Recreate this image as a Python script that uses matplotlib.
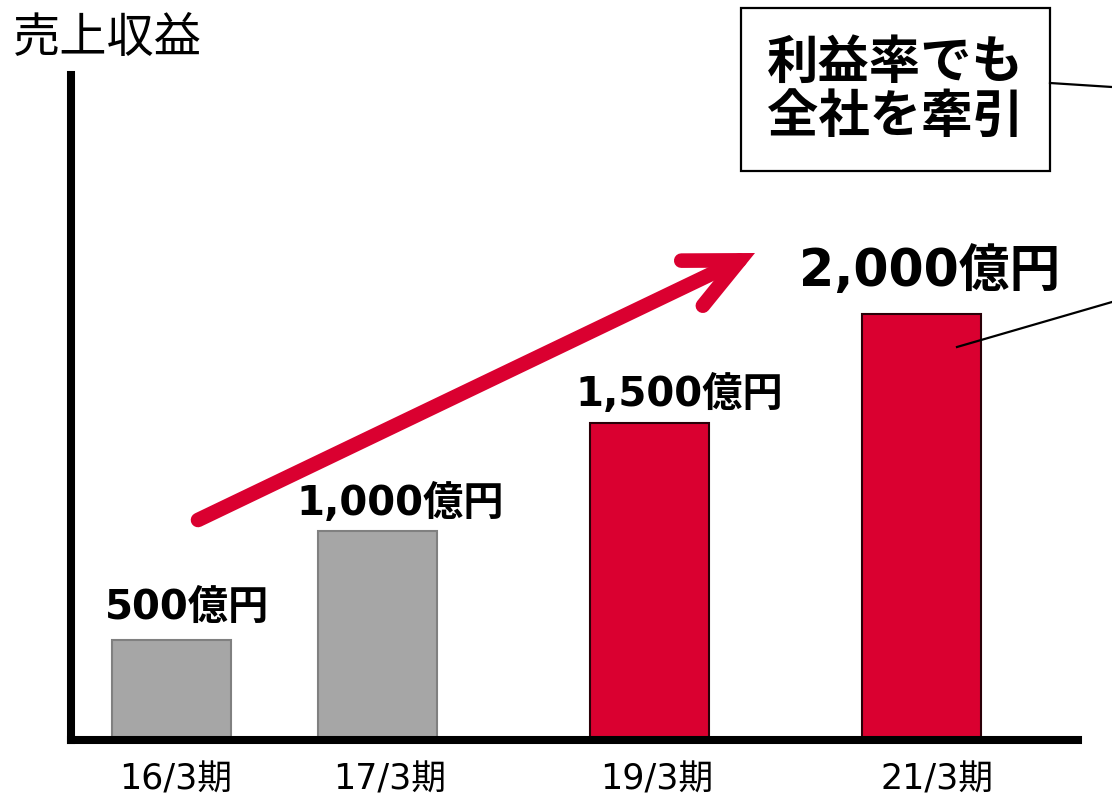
import matplotlib
matplotlib.use("Agg")
import matplotlib.pyplot as plt
from matplotlib.patches import FancyArrowPatch, Rectangle, ArrowStyle
from matplotlib.lines import Line2D
from matplotlib.transforms import ScaledTranslation

plt.rcParams['font.family'] = ['DejaVu Sans', 'Noto Sans CJK JP']

# ---- data ----
periods = ["16/3期", "17/3期", "19/3期", "21/3期"]
revenue = [500, 1000, 1500, 2000]          # 億円
value_labels = ["500億円", "1,000億円", "1,500億円", "2,000億円"]
y_title = "売上収益"
callout = "利益率でも\n全社を牽引"

# ---- styling / layout ----
W, H = 1112, 799
positions = [0, 1, 2.32, 3.64]
bar_colors = ["#A6A6A6", "#A6A6A6", "#DA0030", "#DA0030"]
edge_colors = ["#808080", "#808080", "#2a0008", "#2a0008"]
label_dx = [11.5, 16, 21.5, 6]       # points
label_dy = [15, 12, 12, 20]          # points
label_size = [29, 29, 29, 36.5]
tick_dx = [4, 12, 7, 16]             # pixels
RED = "#DA0030"

def fx(x):
    return x / W

def fy(y):
    return 1 - y / H

fig = plt.figure(figsize=(W / 100, H / 100), dpi=100)
ax = fig.add_axes([fx(71), fy(740), (1078 - 71) / W, (740 - 75) / H])

ax.bar(positions, revenue, width=0.578, bottom=0,
       color=bar_colors, edgecolor=edge_colors, linewidth=1.5, zorder=2)

ax.set_xlim(-0.488, 4.40)
ax.set_ylim(40, 3100)

for s in ["top", "right"]:
    ax.spines[s].set_visible(False)
for s in ["left", "bottom"]:
    ax.spines[s].set_linewidth(5.8)
    ax.spines[s].set_color("black")
    ax.spines[s].set_zorder(3)
ax.set_yticks([])
ax.set_xticks(positions)
ax.set_xticklabels(periods, fontsize=25)
ax.tick_params(axis='x', length=0, pad=16)
for lbl, dx in zip(ax.get_xticklabels(), tick_dx):
    lbl.set_transform(lbl.get_transform() + ScaledTranslation(dx / 100, 0, fig.dpi_scale_trans))

for p, v, t, dx, dy, fs in zip(positions, revenue, value_labels, label_dx, label_dy, label_size):
    ax.annotate(t, xy=(p, v), xytext=(dx, dy), textcoords='offset points',
                ha='center', va='baseline', fontsize=fs, fontweight='bold')

# y title
fig.text(fx(13), fy(39), y_title, fontsize=34, ha='left', va='center')

# red trend arrow
arrow = FancyArrowPatch(posA=(fx(198), fy(520)), posB=(fx(755), fy(253)),
                        transform=fig.transFigure,
                        arrowstyle=ArrowStyle("->", head_length=38, head_width=18),
                        mutation_scale=1, linewidth=10.5, color=RED,
                        capstyle='round', joinstyle='miter',
                        shrinkA=0, shrinkB=0)
fig.add_artist(arrow)

# callout box
rect = Rectangle((fx(741), fy(171)), (1050 - 741) / W, (171 - 8) / H,
                 transform=fig.transFigure, facecolor='white',
                 edgecolor='black', linewidth=1.6)
fig.add_artist(rect)
fig.text(fx(895), fy(91), callout, ha='center', va='center',
         fontsize=37, fontweight='bold', linespacing=1.12)

# leader lines
fig.add_artist(Line2D([fx(1050), fx(1112)], [fy(83), fy(87)],
                      transform=fig.transFigure, color='black', linewidth=1.6))
fig.add_artist(Line2D([fx(957), fx(1112)], [fy(347), fy(302)],
                      transform=fig.transFigure, color='black', linewidth=1.6))

fig.savefig("out.png", dpi=100)
